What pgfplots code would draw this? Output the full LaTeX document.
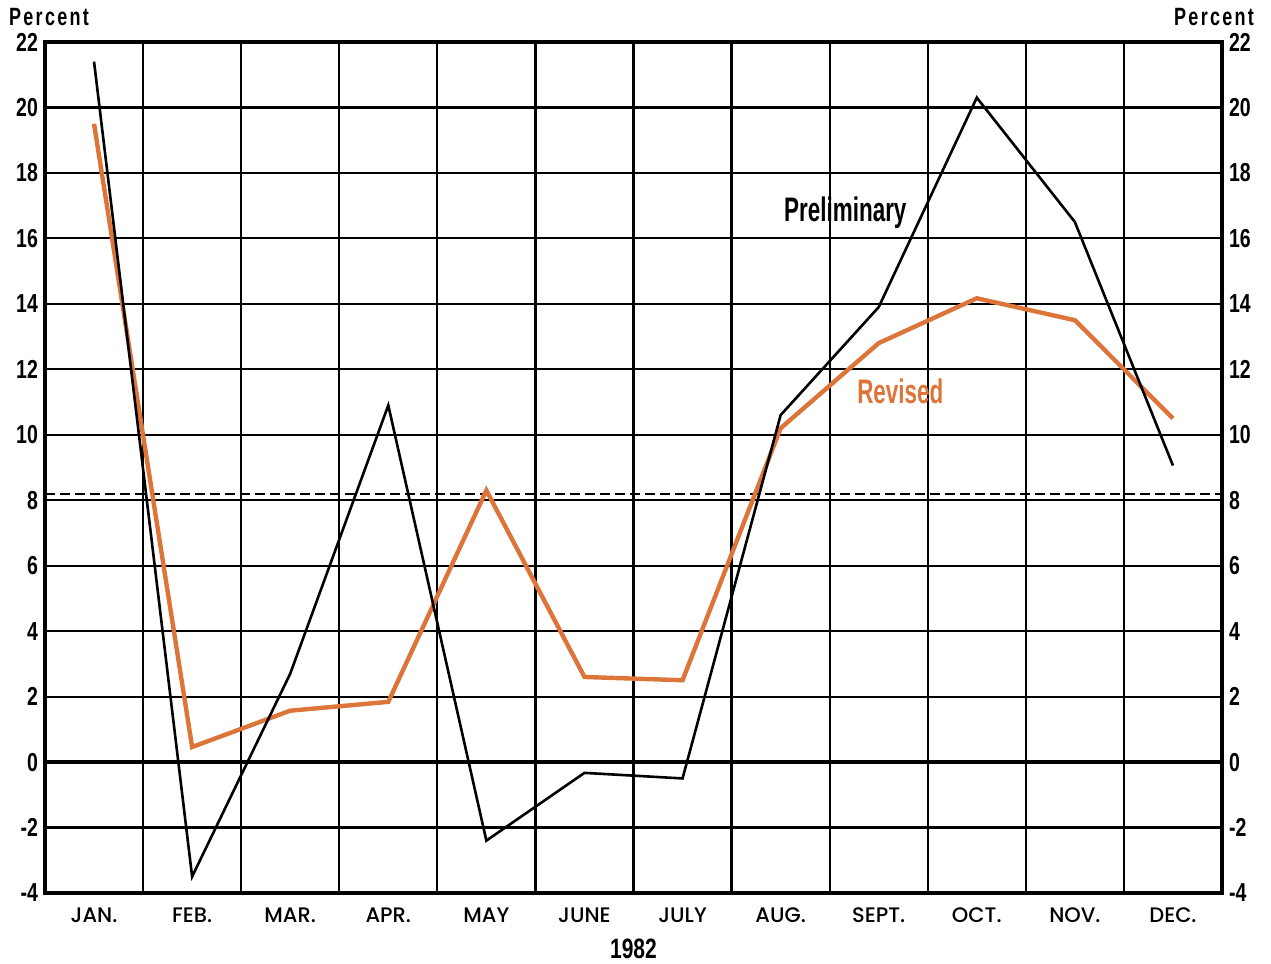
\documentclass[border=0pt]{standalone}
\usepackage{pgfplots}
\pgfplotsset{compat=1.18}
\usepackage{fontspec}
\setmainfont{Poppins}
\newfontfamily\monthfont{Poppins Medium}
\newfontfamily\cond[FakeStretch=0.75]{Liberation Sans}
\newfontfamily\condlab[FakeStretch=0.66]{Liberation Sans}
\newfontfamily\condsp[FakeStretch=0.72,LetterSpace=9]{Liberation Sans}
\definecolor{rev}{RGB}{221,117,58}
\begin{document}
\begin{tikzpicture}
\pgfplotsset{
  common/.style={
    scale only axis, width=588.5pt, height=425.5pt,
    xmin=0, xmax=12, ymin=-4, ymax=22,
    ytick={-4,-2,...,22},
    major tick length=0pt, minor tick length=0pt,
    /pgf/number format/assume math mode=true,
    yticklabel style={font=\cond\bfseries\fontsize{13}{13}\selectfont},
  }
}
\begin{axis}[common,
  xtick={0.5,1.5,...,11.5},
  xticklabels={JAN.,FEB.,MAR.,APR.,MAY,JUNE,JULY,AUG.,SEPT.,OCT.,NOV.,DEC.},
  xticklabel style={font=\monthfont\fontsize{10.5}{10.5}\selectfont, yshift=-4pt},
  minor xtick={1,...,11},
  xminorgrids, ymajorgrids,
  minor grid style={black, line width=1.1pt},
  major grid style={black, line width=1.1pt},
  axis line style={line width=2pt},
  ytick pos=left,
  clip=false,
]
\addplot[black, line width=1.6pt] coordinates {(0,0) (12,0)};
\addplot[black, line width=1pt, dash pattern=on 5pt off 2.5pt] coordinates {(0,8.2) (12,8.2)};
\addplot[rev, line width=2.2pt, line join=miter] coordinates {
(0.5,19.5) (1.5,0.46) (2.5,1.57) (3.5,1.84) (4.5,8.3) (5.5,2.6)
(6.5,2.5) (7.5,10.2) (8.5,12.8) (9.5,14.17) (10.5,13.5) (11.5,10.5)};
\addplot[black, line width=1.3pt] coordinates {
(0.5,21.4) (1.5,-3.5) (2.5,2.7) (3.5,10.9) (4.5,-2.4) (5.5,-0.33)
(6.5,-0.5) (7.5,10.6) (8.5,13.9) (9.5,20.3) (10.5,16.5) (11.5,9.06)};
\node[font=\condlab\bfseries\fontsize{17}{17}\selectfont, inner sep=1pt] at (axis cs:8.16,16.78) {Preliminary};
\node[font=\condlab\bfseries\fontsize{17}{17}\selectfont, text=rev, inner sep=1pt] at (axis cs:8.72,11.34) {Revised};
\node[font=\condsp\bfseries\fontsize{12.5}{12.5}\selectfont] at ([xshift=2pt,yshift=12.5pt]rel axis cs:0,1) {Percent};
\node[font=\condsp\bfseries\fontsize{12.5}{12.5}\selectfont] at ([xshift=-4pt,yshift=12.5pt]rel axis cs:1,1) {Percent};
\node[font=\cond\bfseries\fontsize{14}{14}\selectfont] at ([yshift=-28pt]rel axis cs:0.5,0) {1982};
\end{axis}
\begin{axis}[common,
  axis x line=none, axis y line*=right,
  axis line style={draw=none},
  yticklabel pos=right,
]
\end{axis}
\pgfresetboundingbox
\path[use as bounding box] (-22.5pt,-35.5pt) rectangle (613pt,446.5pt);
\end{tikzpicture}
\end{document}
